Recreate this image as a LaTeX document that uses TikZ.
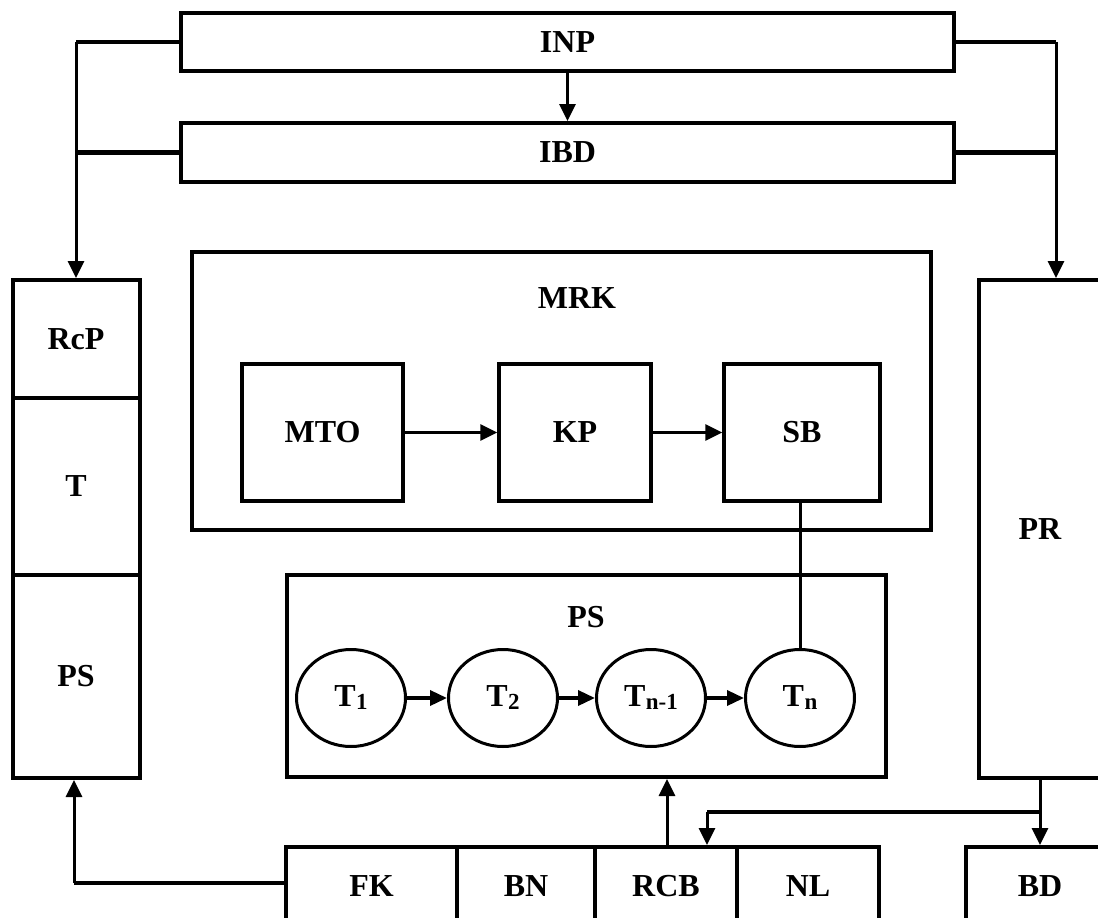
\documentclass[tikz,border=0pt]{standalone}
\usepackage{fontspec}
\setmainfont{Liberation Serif}
\usetikzlibrary{arrows.meta,shapes.geometric}
\newcommand{\sub}[1]{\kern0.5pt\raisebox{-3pt}{\fontsize{23}{23}\selectfont #1}}
\begin{document}
\begin{tikzpicture}[x=1pt,y=-1pt,
  lbl/.style={font=\fontsize{32}{32}\selectfont\bfseries},
  box/.style={draw,line width=4pt,rectangle,inner sep=0pt,lbl},
  inbox/.style={draw,line width=3.5pt,rectangle,inner sep=0pt,lbl},
  oval/.style={draw,line width=3pt,ellipse,inner sep=0pt,minimum width=109pt,minimum height=97pt,lbl},
  conn/.style={line width=3pt},
  stub/.style={line width=4.5pt},
  arr/.style={line width=3pt,-{Triangle[length=17pt,width=16pt]}},
  sarr/.style={line width=3.5pt,-{Triangle[length=17pt,width=15pt]}}]
\useasboundingbox (0,0) rectangle (1098,918);
\clip (0,0) rectangle (1098,918);
\fill[white] (0,0) rectangle (1098,918);
% top bars
\node[box,minimum width=773pt,minimum height=58pt] (inp) at (567.5,42) {INP};
\node[box,minimum width=773pt,minimum height=59pt] (ibd) at (567.5,152.5) {IBD};
% left column
\node[box,minimum width=127pt,minimum height=118pt] (rcp) at (76,339) {RcP};
\node[box,minimum width=127pt,minimum height=177pt] (tt) at (76,486.5) {T};
\node[box,minimum width=127pt,minimum height=203pt] (pss) at (76,676.5) {PS};
% MRK
\node[box,minimum width=739pt,minimum height=278pt] (mrk) at (561.5,391) {};
\node[lbl] (mrkl) at (577,298) {MRK};
\node[inbox,minimum width=161pt,minimum height=137pt] (mto) at (322.5,432.5) {MTO};
\node[inbox,minimum width=152pt,minimum height=137pt] (kp) at (575,432.5) {KP};
\node[inbox,minimum width=156pt,minimum height=137pt] (sb) at (802,432.5) {SB};
% PS
\node[box,minimum width=599pt,minimum height=202pt] (ps) at (586.5,676) {};
\node[lbl] (psl) at (586,617) {PS};
\node[oval] (t1) at (351,698) {T\sub{1}};
\node[oval] (t2) at (503,698) {T\sub{2}};
\node[oval] (t3) at (651,698) {T\sub{n-1}};
\node[oval] (t4) at (800,698) {T\sub{n}};
% PR
\node[box,minimum width=122pt,minimum height=498pt] (pr) at (1040,529) {PR};
% bottom row
\node[box,minimum width=171pt,minimum height=78pt] (fk) at (371.5,886) {FK};
\node[box,minimum width=138pt,minimum height=78pt] (bn) at (526,886) {BN};
\node[box,minimum width=142pt,minimum height=78pt] (rcb) at (666,886) {RCB};
\node[box,minimum width=142pt,minimum height=78pt] (nl) at (808,886) {NL};
\node[box,minimum width=148pt,minimum height=78pt] (bd) at (1040,886) {BD};
% connectors top
\draw[arr] (inp.south) -- (ibd.north);
\coordinate (lt) at (76,42);
\coordinate (rt) at (1056,42);
\draw[stub] (inp.west) -- (lt);
\draw[stub] (ibd.west) -- (ibd.west -| lt);
\draw[arr] (lt) -- (lt |- rcp.north);
\draw[stub] (inp.east) -- (rt);
\draw[stub] (ibd.east) -- (ibd.east -| rt);
\draw[arr] (rt) -- (rt |- pr.north);
% inner
\draw[arr] (mto.east) -- (kp.west);
\draw[arr] (kp.east) -- (sb.west);
\draw[conn] (sb.south -| t4.north) -- (t4.north);
\draw[sarr] (t1.east) -- (t2.west);
\draw[sarr] (t2.east) -- (t3.west);
\draw[sarr] (t3.east) -- (t4.west);
% bottom connectors
\coordinate (fl) at (74,883);
\draw[stub] (fk.west |- fl) -- (fl);
\draw[arr] (fl) -- (fl |- pss.south);
\coordinate (ru) at (667,847);
\draw[arr] (ru) -- (ru |- ps.south);
\draw[arr] (pr.south) -- (bd.north);
\coordinate (br) at (1040,812);
\coordinate (bl) at (707,812);
\draw[stub] (br) -- (bl);
\draw[arr] (bl) -- (bl |- rcb.north);
\end{tikzpicture}
\end{document}
